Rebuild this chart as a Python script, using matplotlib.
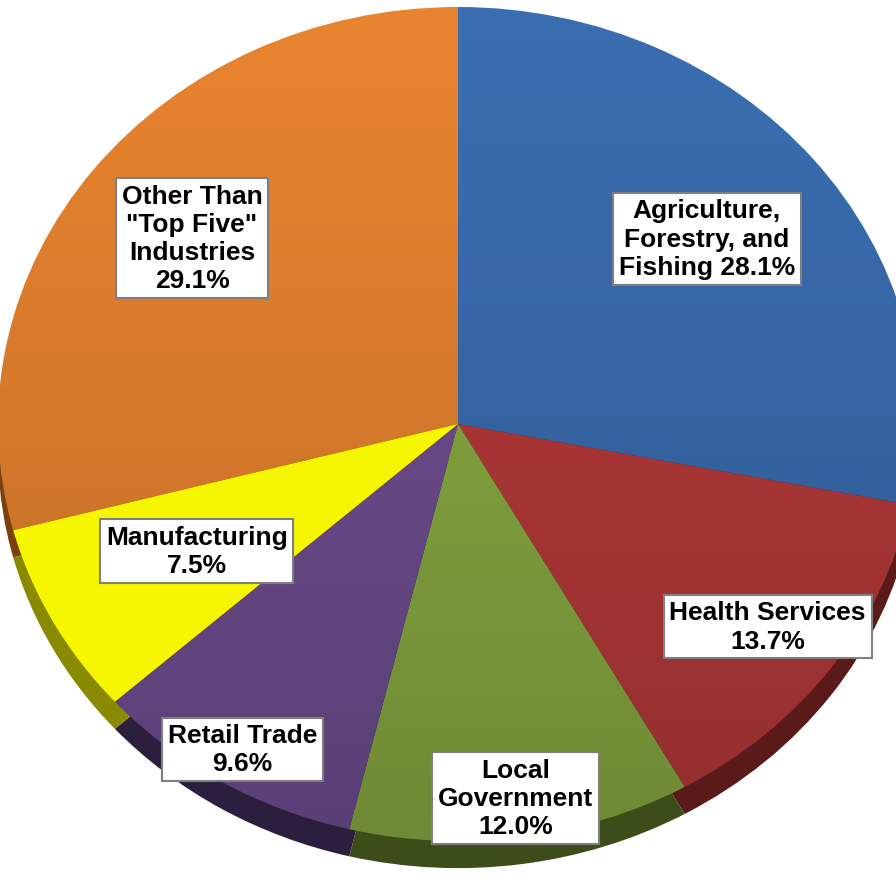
import numpy as np
import matplotlib.pyplot as plt
from matplotlib import font_manager
from matplotlib.patches import Circle

# industry shares (%), clockwise from 12 o'clock
labels = ['Agriculture,\nForestry, and\nFishing 28.1%',
          'Health Services\n13.7%',
          'Local\nGovernment\n12.0%',
          'Retail Trade\n9.6%',
          'Manufacturing\n7.5%',
          'Other Than\n"Top Five"\nIndustries\n29.1%']
shares = [28.1, 13.7, 12.0, 9.6, 7.5, 29.1]
colors = ['#3a6db0', '#b83a3a', '#8aac42', '#704f92', '#f6f600', '#e8832f']
side_colors = ['#1f3d63', '#5a1a1a', '#3c4d1a', '#2b1f3d', '#8a8a00', '#7a4010']
label_dist = [0.70, 0.83, 0.906, 0.91, 0.645, 0.73]
narrow = [False, False, True, True, False, True]

installed = {f.name for f in font_manager.fontManager.ttflist}
narrow_font = 'Liberation Sans Narrow' if 'Liberation Sans Narrow' in installed else 'Liberation Sans'

W, H = 896, 887
fig = plt.figure(figsize=(W / 100, H / 100), dpi=100)
ax = fig.add_axes([0, 0, 1, 1])

# side band of the tilted pie
depth = 0.065
ax.pie(shares, colors=side_colors, startangle=90, counterclock=False,
       center=(0, -depth), radius=1.0, frame=True,
       wedgeprops=dict(linewidth=0))
wedges, _ = ax.pie(shares, colors=colors, startangle=90, counterclock=False,
                   radius=1.0, frame=True,
                   wedgeprops=dict(linewidth=0))

# soft lighting: lighter on top, darker lower down (yellow stays flat)
grad = np.linspace(0, 1, 256).reshape(-1, 1)
shade = np.zeros((256, 1, 4))
shade[..., 3] = 0.2 * grad ** 1.2
img = ax.imshow(shade, extent=(-1, 1, -1, 1), aspect='auto', zorder=2,
                interpolation='bilinear')
img.set_clip_path(Circle((0, 0), 1.0, transform=ax.transData))
wedges[4].set_zorder(3)

for w, lab, d, nar in zip(wedges, labels, label_dist, narrow):
    mid = np.deg2rad((w.theta1 + w.theta2) / 2)
    x, y = d * np.cos(mid), d * np.sin(mid)
    ax.text(x, y, lab, ha='center', va='center', fontsize=19, zorder=5,
            fontweight='bold', family=narrow_font if nar else 'Liberation Sans',
            linespacing=1.22,
            bbox=dict(boxstyle='square,pad=0.22', facecolor='white',
                      edgecolor='#7f7f7f', linewidth=1.5))

# pixel geometry: centre at (458, 425), rx=460 px, ry=417 px
rx, ry = 460, 417
cx, cy = 458, 425
ax.set_aspect('auto')
ax.set_xlim(-cx / rx, (W - cx) / rx)
ax.set_ylim(-(H - cy) / ry, cy / ry)
ax.axis('off')

fig.savefig('out.png', dpi=100)
